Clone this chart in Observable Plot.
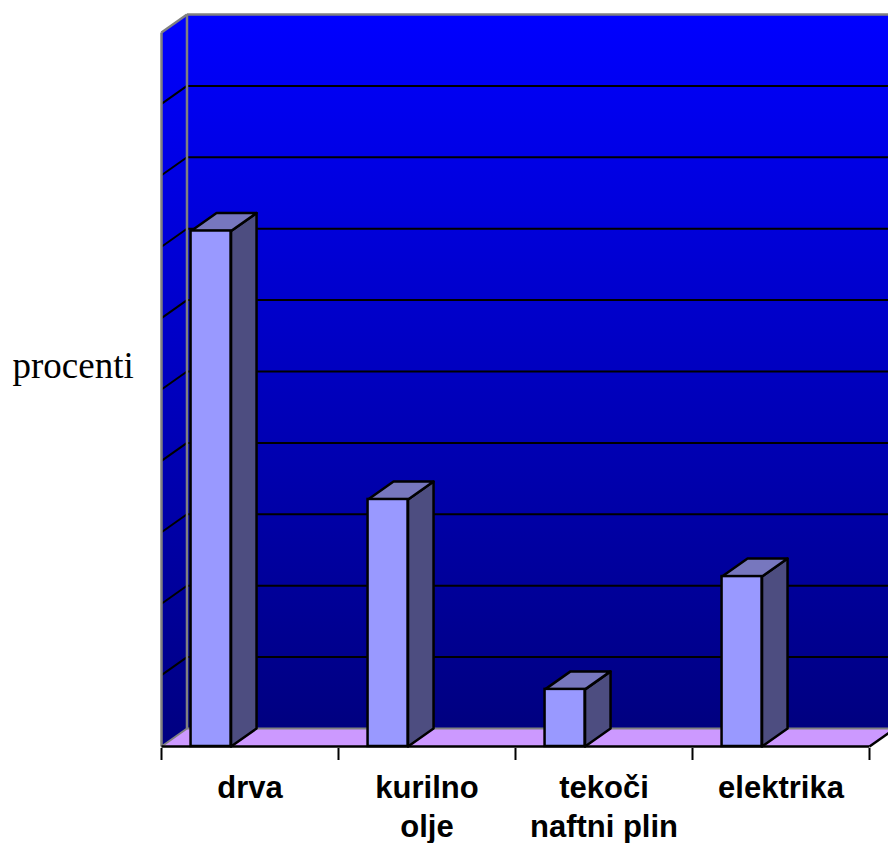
<!DOCTYPE html>
<html>
<head>
<meta charset="utf-8">
<script src="https://cdn.jsdelivr.net/npm/d3@7"></script>
<script src="https://cdn.jsdelivr.net/npm/@observablehq/plot@0.6"></script>
<style>
  html, body { margin: 0; padding: 0; background: #fff; overflow: hidden; }
  #chart svg { overflow: hidden; }
</style>
</head>
<body>
<div id="chart"></div>
<script>
// Heating sources, share of households (percent)
const categories = ["drva", "kurilno\nolje", "tekoči\nnaftni plin", "elektrika"];
const values = [36.1, 17.3, 4.0, 11.9];
const gridTicks = [5, 10, 15, 20, 25, 30, 35, 40, 45];
const yMax = 50;
const yLabel = "procenti";

// Oblique projection of the 3-D box: depth offset in data units
const DX = 0.144;   // along the category axis
const DY = 1.26;    // along the percent axis
// Bar front face within each category slot
const BAR_L = 0.167, BAR_R = 0.393;

const n = categories.length;
const EDGE_GREY = "#808080";

const poly = (pts, key) => pts.map(([x, y]) => ({key, x, y}));

const backWall = poly([[DX, DY], [n + DX, DY], [n + DX, yMax + DY], [DX, yMax + DY]], "back");
const sideWall = poly([[0, 0], [DX, DY], [DX, yMax + DY], [0, yMax]], "side");
const floor = poly([[0, 0], [n, 0], [n + DX, DY], [DX, DY]], "floor");

const topFaces = values.flatMap((v, i) =>
  poly([[i + BAR_L, v], [i + BAR_R, v], [i + BAR_R + DX, v + DY], [i + BAR_L + DX, v + DY]], "top" + i));
const sideFaces = values.flatMap((v, i) =>
  poly([[i + BAR_R, 0], [i + BAR_R, v], [i + BAR_R + DX, v + DY], [i + BAR_R + DX, DY]], "side" + i));

const sans = "Arial, 'Liberation Sans', sans-serif";
const serif = "'Times New Roman', 'Liberation Serif', serif";

const chart = Plot.plot({
  width: 888,
  height: 843,
  marginLeft: 161,
  marginRight: 19,
  marginTop: 32,
  marginBottom: 97,
  style: {background: "white", overflow: "hidden"},
  x: {type: "linear", domain: [0, n], axis: null},
  y: {domain: [0, yMax], axis: null},
  marks: [
    // walls
    Plot.line(backWall, {x: "x", y: "y", curve: "linear-closed", fill: "url(#wallShade)", stroke: "none"}),
    Plot.line(sideWall, {x: "x", y: "y", curve: "linear-closed", fill: "url(#wallShade)", stroke: "none"}),
    // gridlines on back and side walls
    Plot.ruleY(gridTicks, {y: d => d + DY, x1: DX, x2: n + DX, stroke: "black", strokeWidth: 2}),
    Plot.link(gridTicks, {x1: 0, y1: d => d, x2: DX, y2: d => d + DY, stroke: "black", strokeWidth: 2}),
    // wall borders
    Plot.link([
      {x1: 0, y1: 0, x2: 0, y2: yMax},
      {x1: 0, y1: yMax, x2: DX, y2: yMax + DY},
      {x1: DX, y1: DY, x2: DX, y2: yMax + DY},
      {x1: DX, y1: yMax + DY, x2: n + DX, y2: yMax + DY}
    ], {x1: "x1", y1: "y1", x2: "x2", y2: "y2", stroke: EDGE_GREY, strokeWidth: 2.5}),
    // floor
    Plot.line(floor, {x: "x", y: "y", curve: "linear-closed", fill: "#CC99FF", stroke: "none"}),
    Plot.link([
      {x1: DX, y1: DY, x2: n + DX, y2: DY},
      {x1: 0, y1: 0, x2: DX, y2: DY}
    ], {x1: "x1", y1: "y1", x2: "x2", y2: "y2", stroke: EDGE_GREY, strokeWidth: 2}),
    Plot.link([
      {x1: 0, y1: 0, x2: n, y2: 0},
      {x1: n, y1: 0, x2: n + DX, y2: DY}
    ], {x1: "x1", y1: "y1", x2: "x2", y2: "y2", stroke: "black", strokeWidth: 2.5}),
    // bars
    Plot.line(sideFaces, {x: "x", y: "y", z: "key", curve: "linear-closed", fill: "#4D4D80", stroke: "black", strokeWidth: 2.5, strokeLinejoin: "round"}),
    Plot.line(topFaces, {x: "x", y: "y", z: "key", curve: "linear-closed", fill: "#7777BE", stroke: "black", strokeWidth: 2.5, strokeLinejoin: "round"}),
    Plot.rect(values, {x1: (d, i) => i + BAR_L, x2: (d, i) => i + BAR_R, y1: 0, y2: d => d, fill: "#9999FF", stroke: "black", strokeWidth: 2.5}),
    // category ticks below the floor
    Plot.ruleX(d3.range(n + 1), {y1: 0, y2: 0, insetTop: 2, insetBottom: -14, stroke: "black", strokeWidth: 2}),
    // category labels
    Plot.text(categories, {
      x: (d, i) => i + 0.5, y: 0, text: d => d,
      lineAnchor: "top", dy: 24, lineHeight: 1.25,
      fontSize: 31, fontWeight: "bold", fontFamily: sans, fill: "black"
    }),
    // axis title
    Plot.text([yLabel], {
      frameAnchor: "left", text: d => d, textAnchor: "start",
      dx: -149, dy: -23, fontSize: 37, fontFamily: serif, fill: "black"
    })
  ]
});

// vertical shading used by the walls
d3.select(chart).insert("defs", ":first-child").html(
  '<linearGradient id="wallShade" x1="0" y1="0" x2="0" y2="1">' +
  '<stop offset="0" stop-color="#0000FF"/>' +
  '<stop offset="1" stop-color="#000080"/>' +
  '</linearGradient>'
);

document.getElementById("chart").append(chart);
</script>
</body>
</html>
